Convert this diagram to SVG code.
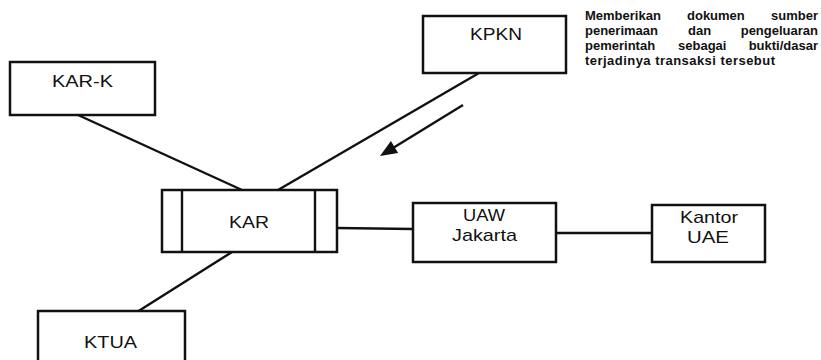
<svg xmlns="http://www.w3.org/2000/svg" width="821" height="360" viewBox="0 0 821 360">
<style>
.box{fill:#fff;stroke:#111;stroke-width:2.5}
.ln{stroke:#111;stroke-width:2.4;fill:none}
.lbl{font-family:"Liberation Sans",Arial,sans-serif;font-size:17px;fill:#111;text-anchor:middle}
.note{font-family:"Liberation Sans",Arial,sans-serif;font-size:13px;font-weight:bold;fill:#111}
.end{text-anchor:end}
</style>
<rect width="821" height="360" fill="#fff"/>
<g id="connectors">
<line class="ln" x1="78" y1="115" x2="242" y2="190"/>
<line class="ln" x1="479" y1="73" x2="278" y2="190"/>
<line class="ln" x1="137" y1="312" x2="232" y2="252"/>
<line class="ln" x1="337" y1="228" x2="413" y2="229"/>
<line class="ln" x1="556" y1="233" x2="652" y2="233"/>
<line class="ln" x1="463" y1="105" x2="393" y2="148"/>
<path d="M380,156 L390.9,141.1 L398.1,153.1 Z" fill="#111"/>
</g>
<g id="KPKN">
<rect class="box" x="423" y="16" width="143" height="57"/>
<text class="lbl" x="496" y="40" textLength="52" lengthAdjust="spacingAndGlyphs">KPKN</text>
</g>
<g id="KAR-K">
<rect class="box" x="10" y="62" width="145" height="53"/>
<text class="lbl" x="82.5" y="87" textLength="61" lengthAdjust="spacingAndGlyphs">KAR-K</text>
</g>
<g id="KAR">
<rect class="box" x="162" y="190" width="175" height="62"/>
<line class="ln" x1="182" y1="190" x2="182" y2="252"/>
<line class="ln" x1="315" y1="190" x2="315" y2="252"/>
<text class="lbl" x="249" y="228" textLength="40" lengthAdjust="spacingAndGlyphs">KAR</text>
</g>
<g id="UAW">
<rect class="box" x="413" y="203" width="143" height="59"/>
<text class="lbl" x="484" y="221" textLength="42" lengthAdjust="spacingAndGlyphs">UAW</text>
<text class="lbl" x="484.5" y="241" textLength="65" lengthAdjust="spacingAndGlyphs">Jakarta</text>
</g>
<g id="KantorUAE">
<rect class="box" x="652" y="205" width="113" height="57"/>
<text class="lbl" x="709" y="223" textLength="58" lengthAdjust="spacingAndGlyphs">Kantor</text>
<text class="lbl" x="708" y="243" textLength="42" lengthAdjust="spacingAndGlyphs">UAE</text>
</g>
<g id="KTUA">
<rect class="box" x="38" y="311" width="147" height="60"/>
<text class="lbl" x="110.5" y="348" textLength="53" lengthAdjust="spacingAndGlyphs">KTUA</text>
</g>
<g id="note">
<text class="note" x="585" y="20">Memberikan</text>
<text class="note" x="687" y="20">dokumen</text>
<text class="note end" x="818" y="20">sumber</text>
<text class="note" x="585" y="35">penerimaan</text>
<text class="note" x="688" y="35">dan</text>
<text class="note end" x="818" y="35">pengeluaran</text>
<text class="note" x="585" y="50">pemerintah</text>
<text class="note" x="678" y="50">sebagai</text>
<text class="note end" x="818" y="50">bukti/dasar</text>
<text class="note" x="585" y="65" textLength="190" lengthAdjust="spacing">terjadinya transaksi tersebut</text>
</g>
</svg>
